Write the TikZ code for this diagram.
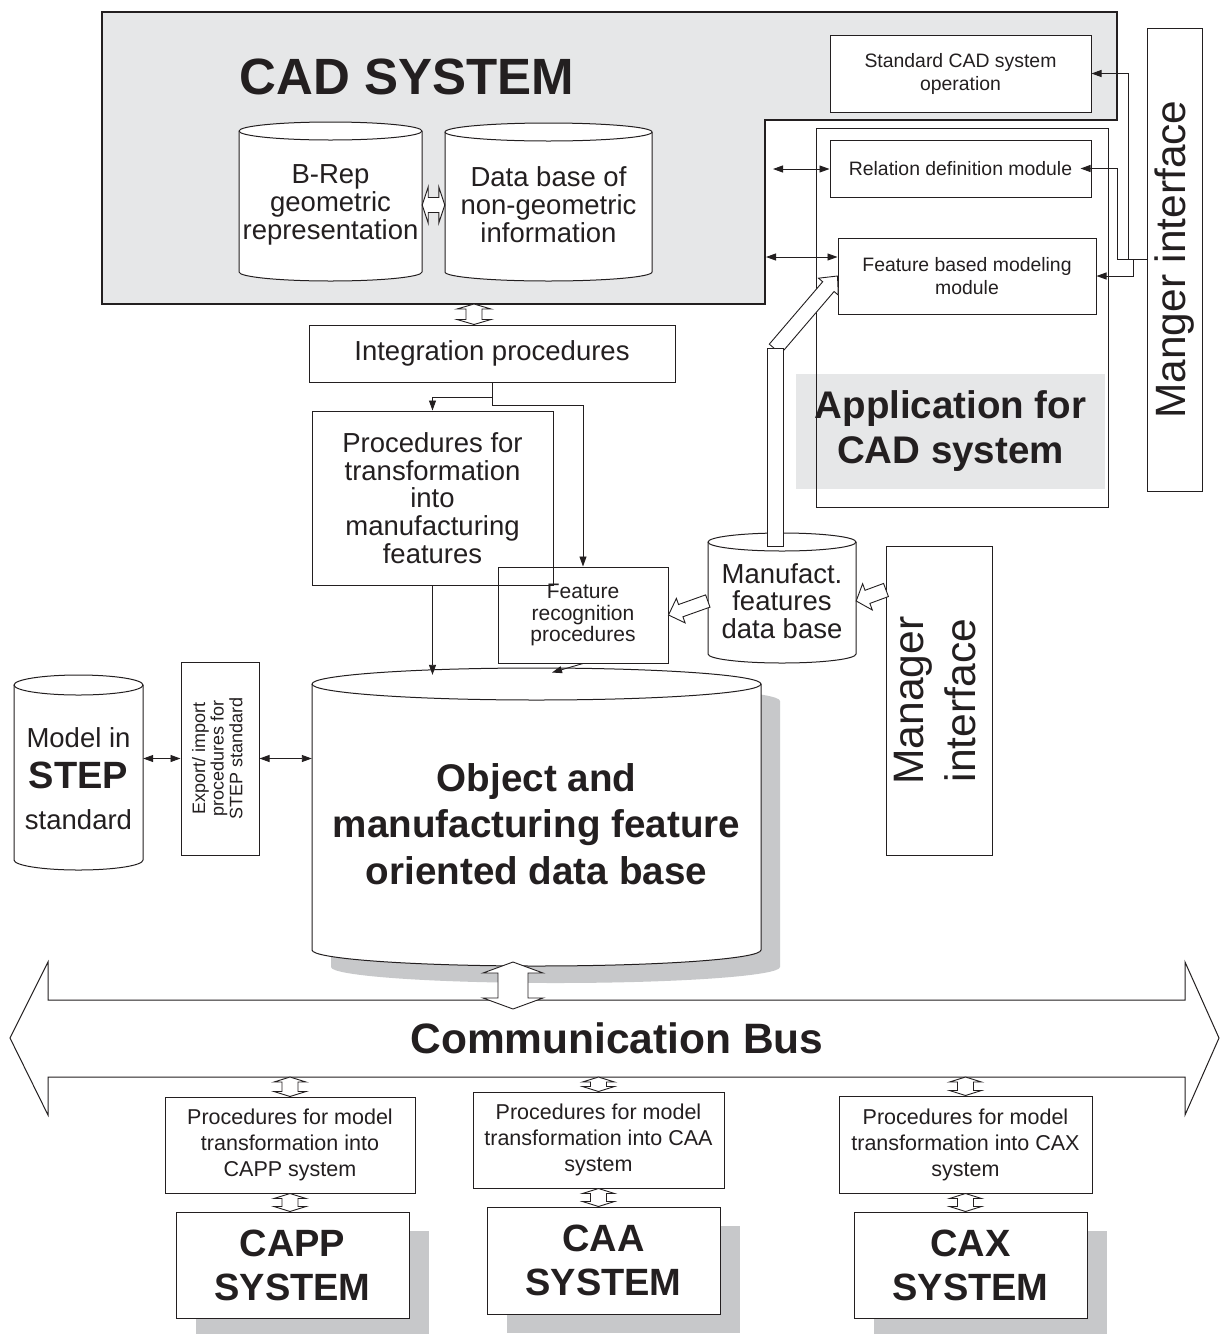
\documentclass[tikz,border=0pt]{standalone}
\usepackage{fontspec}
\setmainfont{Liberation Sans}
\usepackage{graphicx}
\usetikzlibrary{calc,arrows.meta,shadows}
\definecolor{ln}{HTML}{231F20}
\definecolor{cadgray}{HTML}{E6E7E8}
\definecolor{shd}{HTML}{C7C8CA}
\newcommand{\myfs}[2]{\fontsize{#1}{#2}\selectfont}
\newcommand{\cylbody}[6][]{%
 \pgfmathsetmacro{\cylrx}{(#4-#2)/2}%
 \path[#1] (#2,#3+#6) -- (#2,#5-#6) arc[start angle=180,end angle=360,x radius=\cylrx pt,y radius=#6 pt] -- (#4,#3+#6) arc[start angle=0,end angle=180,x radius=\cylrx pt,y radius=#6 pt] -- cycle;}
\newcommand{\cylfront}[5][]{%
 \pgfmathsetmacro{\cylrx}{(#4-#2)/2}%
 \draw[#1] (#2,#3+#5) arc[start angle=180,end angle=360,x radius=\cylrx pt,y radius=#5 pt];}
\newcommand{\hollowone}[5]{%
 \path ($(#2)!#5!(#1)$) coordinate (hhH);
 \draw[hol] ($(#1)!#3!90:(#2)$) -- ($(hhH)!#3!90:(#2)$) -- ($(hhH)!#4!90:(#2)$) -- (#2) -- ($(hhH)!#4!-90:(#2)$) -- ($(hhH)!#3!-90:(#2)$) -- ($(#1)!#3!-90:(#2)$) -- cycle;}
\newcommand{\hollowtwo}[5]{%
 \path ($(#1)!#5!(#2)$) coordinate (hhA) ($(#2)!#5!(#1)$) coordinate (hhB);
 \draw[hol] (#1) -- ($(hhA)!#4!90:(#2)$) -- ($(hhA)!#3!90:(#2)$) -- ($(hhB)!#3!90:(#2)$) -- ($(hhB)!#4!90:(#2)$) -- (#2) -- ($(hhB)!#4!-90:(#2)$) -- ($(hhB)!#3!-90:(#2)$) -- ($(hhA)!#3!-90:(#2)$) -- ($(hhA)!#4!-90:(#2)$) -- cycle;}
\begin{document}
\begin{tikzpicture}[x=1pt,y=-1pt,
 bx/.style={draw=ln,line width=1pt,inner sep=0pt,align=center,text=ln},
 txt/.style={inner sep=0pt,align=center,text=ln},
 arr/.style={draw=ln,line width=0.9pt,-{Triangle[length=10pt,width=7pt]}},
 darr/.style={draw=ln,line width=0.9pt,{Triangle[length=10pt,width=7pt]}-{Triangle[length=10pt,width=7pt]}},
 hol/.style={draw=ln,fill=white,line width=0.9pt,line join=miter},
 cylst/.style={draw=ln,fill=white,line width=1pt},
 sysbox/.style={bx,fill=white,drop shadow={shadow xshift=20pt,shadow yshift=-19pt,fill=shd,opacity=1}}
]
\useasboundingbox (0,0) rectangle (1219,1334);
\fill[white] (0,0) rectangle (1219,1334);

% CAD system region
\draw[draw=ln,fill=cadgray,line width=1.2pt] (102,12) -- (1117,12) -- (1117,120) -- (765,120) -- (765,304) -- (102,304) -- cycle;
\node[txt,font=\myfs{51}{51}\bfseries] (cad) at (407,77) {CAD SYSTEM};

\cylbody[cylst]{239}{122}{422}{281}{9}
\cylfront[draw=ln,line width=1pt]{239}{122}{422}{9}
\node[txt,minimum width=183,minimum height=159,font=\myfs{27.5}{28}] (brep) at (330.5,205) {B-Rep\\geometric\\representation};

\cylbody[cylst]{445}{123}{652}{281}{9}
\cylfront[draw=ln,line width=1pt]{445}{123}{652}{9}
\node[txt,minimum width=207,minimum height=158,font=\myfs{27.5}{28}] (dbng) at (548.5,205) {Data base of\\non-geometric\\information};

\hollowtwo{brep.east}{dbng.west}{7.5pt}{18pt}{6pt}

\node[bx,fill=white,minimum width=261,minimum height=77,font=\myfs{19.4}{23}] (stdcad) at (960.5,73.5) {Standard CAD system\\operation};

% Application for CAD system
\node[txt,fill=cadgray,minimum width=309,minimum height=115,font=\myfs{38.5}{45}\bfseries] (applbl) at (950.5,431.5) {Application for\\CAD system};
\node[bx,minimum width=292,minimum height=379] (app) at (962,317.5) {};
\node[bx,fill=white,minimum width=261,minimum height=57,font=\myfs{19.4}{23}] (reldef) at (960.5,168.5) {Relation definition module};
\node[bx,fill=white,minimum width=258,minimum height=76,font=\myfs{19.4}{23}] (fbm) at (967,276) {Feature based modeling\\module};

% Manger interface
\node[bx,minimum width=55,minimum height=463] (mgr) at (1174.5,259.5) {\rotatebox{90}{\myfs{42.4}{45}Manger interface}};
\draw[arr] (mgr.west) -- ++(-18,0) |- (stdcad.east);
\draw[arr] (mgr.west) -- ++(-29,0) |- ([xshift=-11pt]reldef.east);
\draw[arr] (mgr.west) -- ++(-13,0) |- (fbm.east);

\coordinate (cadr1) at (773,169);
\coordinate (cadr2) at (766,257);
\draw[darr] (cadr1) -- (reldef.west |- cadr1);
\draw[darr] (cadr2) -- (fbm.west |- cadr2);

% Integration
\node[bx,minimum width=366,minimum height=57,font=\myfs{27.5}{28}] (integ) at (492,353.5) {Integration procedures};
\coordinate (cadbot) at (474,304);
\path (cadbot |- integ.north) coordinate (integtop);
\hollowtwo{cadbot}{integtop}{8pt}{17pt}{5pt}

\node[bx,minimum width=241,minimum height=174,font=\myfs{27.5}{27.8}] (proct) at (432.5,498) {Procedures for\\transformation\\into\\manufacturing\\features};
\node[bx,minimum width=170,minimum height=96,font=\myfs{21}{21.5}] (featrec) at (583,615) {Feature\\recognition\\procedures};
\draw[arr] (integ.south) -- ++(0,15) -| (proct.north);
\draw[arr] (integ.south) -- ++(0,23) -| (featrec.north);

% Manufact. features data base
\cylbody[cylst]{708}{533}{856}{663}{9}
\cylfront[draw=ln,line width=1pt]{708}{533}{856}{9}
\node[txt,minimum width=148,minimum height=130,font=\myfs{27.5}{27.5}] (mfdb) at (782,601) {Manufact.\\features\\data base};

\coordinate (bartop) at (775,349);
\hollowone{bartop}{fbm.west}{7.5pt}{13pt}{14pt}
\draw[hol] (767,348) rectangle (783,546);

\hollowone{mfdb.west}{featrec.east}{6.5pt}{13pt}{13pt}

% Manager interface
\node[bx,minimum width=106,minimum height=309] (mgr2) at (939,700.5) {\rotatebox{90}{\myfs{42.6}{52}\begin{tabular}{@{}c@{}}Manager\\interface\end{tabular}}};
\coordinate (mgr2a) at (886,590);
\hollowone{mgr2a}{mfdb.east}{7pt}{14pt}{12pt}

% STEP
\cylbody[cylst]{14}{675}{143}{870}{10}
\cylfront[draw=ln,line width=1pt]{14}{675}{143}{10}
\node[txt,minimum width=129,minimum height=195,font=\myfs{27.5}{41}] (stepdb) at (78.5,779) {Model in\\{\myfs{38}{41}\bfseries STEP}\\standard};
\node[bx,minimum width=78,minimum height=193] (export) at (220,758.5) {\rotatebox{90}{\myfs{18}{18.5}\begin{tabular}{@{}c@{}}Export/ import\\procedures for\\STEP standard\end{tabular}}};

% Big data base
\cylbody[fill=shd,draw=none]{331}{685}{780}{983}{16}
\cylbody[cylst]{312}{668}{761}{966}{16}
\cylfront[draw=ln,line width=1pt]{312}{668}{761}{16}
\node[txt,minimum width=449,minimum height=298,font=\myfs{38.6}{46.5}\bfseries] (bigdb) at (536.5,824) {Object and\\manufacturing feature\\oriented data base};

\draw[darr] (stepdb.east |- export.west) -- (export.west);
\draw[darr] (export.east) -- (bigdb.west |- export.east);
\draw[arr] (proct.south) -- (proct.south |- bigdb.north);
\draw[arr] (featrec.south) -- ++(-31,9);

% Communication bus
\draw[draw=ln,fill=white,line width=1pt] (10,1038) -- (48,962) -- (48,1000) -- (1185,1000) -- (1185,962) -- (1219,1038) -- (1185,1115) -- (1185,1077) -- (48,1077) -- (48,1115) -- cycle;
\node[txt,font=\myfs{42.5}{45}\bfseries] (bus) at (617,1038) {Communication Bus};
\coordinate (dbb) at (513,962);
\coordinate (busin) at (513,1009);
\hollowtwo{dbb}{busin}{15pt}{30pt}{11pt}

% lower procedures
\node[bx,fill=white,minimum width=250,minimum height=96,font=\myfs{21.5}{26}] (cappproc) at (290,1145) {Procedures for model\\transformation into\\CAPP system};
\node[bx,fill=white,minimum width=251,minimum height=96,font=\myfs{21.5}{26}] (caaproc) at (598.5,1140) {Procedures for model\\transformation into CAA\\system};
\node[bx,fill=white,minimum width=253,minimum height=97,font=\myfs{21.5}{26}] (caxproc) at (965.5,1144.5) {Procedures for model\\transformation into CAX\\system};

\node[sysbox,minimum width=233,minimum height=106,font=\myfs{38}{44}\bfseries] (cappsys) at (292.5,1265) {CAPP\\SYSTEM};
\node[sysbox,minimum width=233,minimum height=107,font=\myfs{38}{44}\bfseries] (caasys) at (603.5,1260.5) {CAA\\SYSTEM};
\node[sysbox,minimum width=233,minimum height=106,font=\myfs{38}{44}\bfseries] (caxsys) at (970.5,1265) {CAX\\SYSTEM};

\coordinate (busbot) at (0,1077);
\path (cappproc.north |- busbot) coordinate (b1) (caaproc.north |- busbot) coordinate (b2) (caxproc.north |- busbot) coordinate (b3);
\hollowtwo{b1}{cappproc.north}{8pt}{16pt}{5pt}
\hollowtwo{b2}{caaproc.north}{8pt}{16pt}{5pt}
\hollowtwo{b3}{caxproc.north}{8pt}{16pt}{5pt}

\path (cappproc.south |- cappsys.north) coordinate (s1) (caaproc.south |- caasys.north) coordinate (s2) (caxproc.south |- caxsys.north) coordinate (s3);
\hollowtwo{cappproc.south}{s1}{8pt}{16pt}{5pt}
\hollowtwo{caaproc.south}{s2}{8pt}{16pt}{5pt}
\hollowtwo{caxproc.south}{s3}{8pt}{16pt}{5pt}
\end{tikzpicture}
\end{document}
